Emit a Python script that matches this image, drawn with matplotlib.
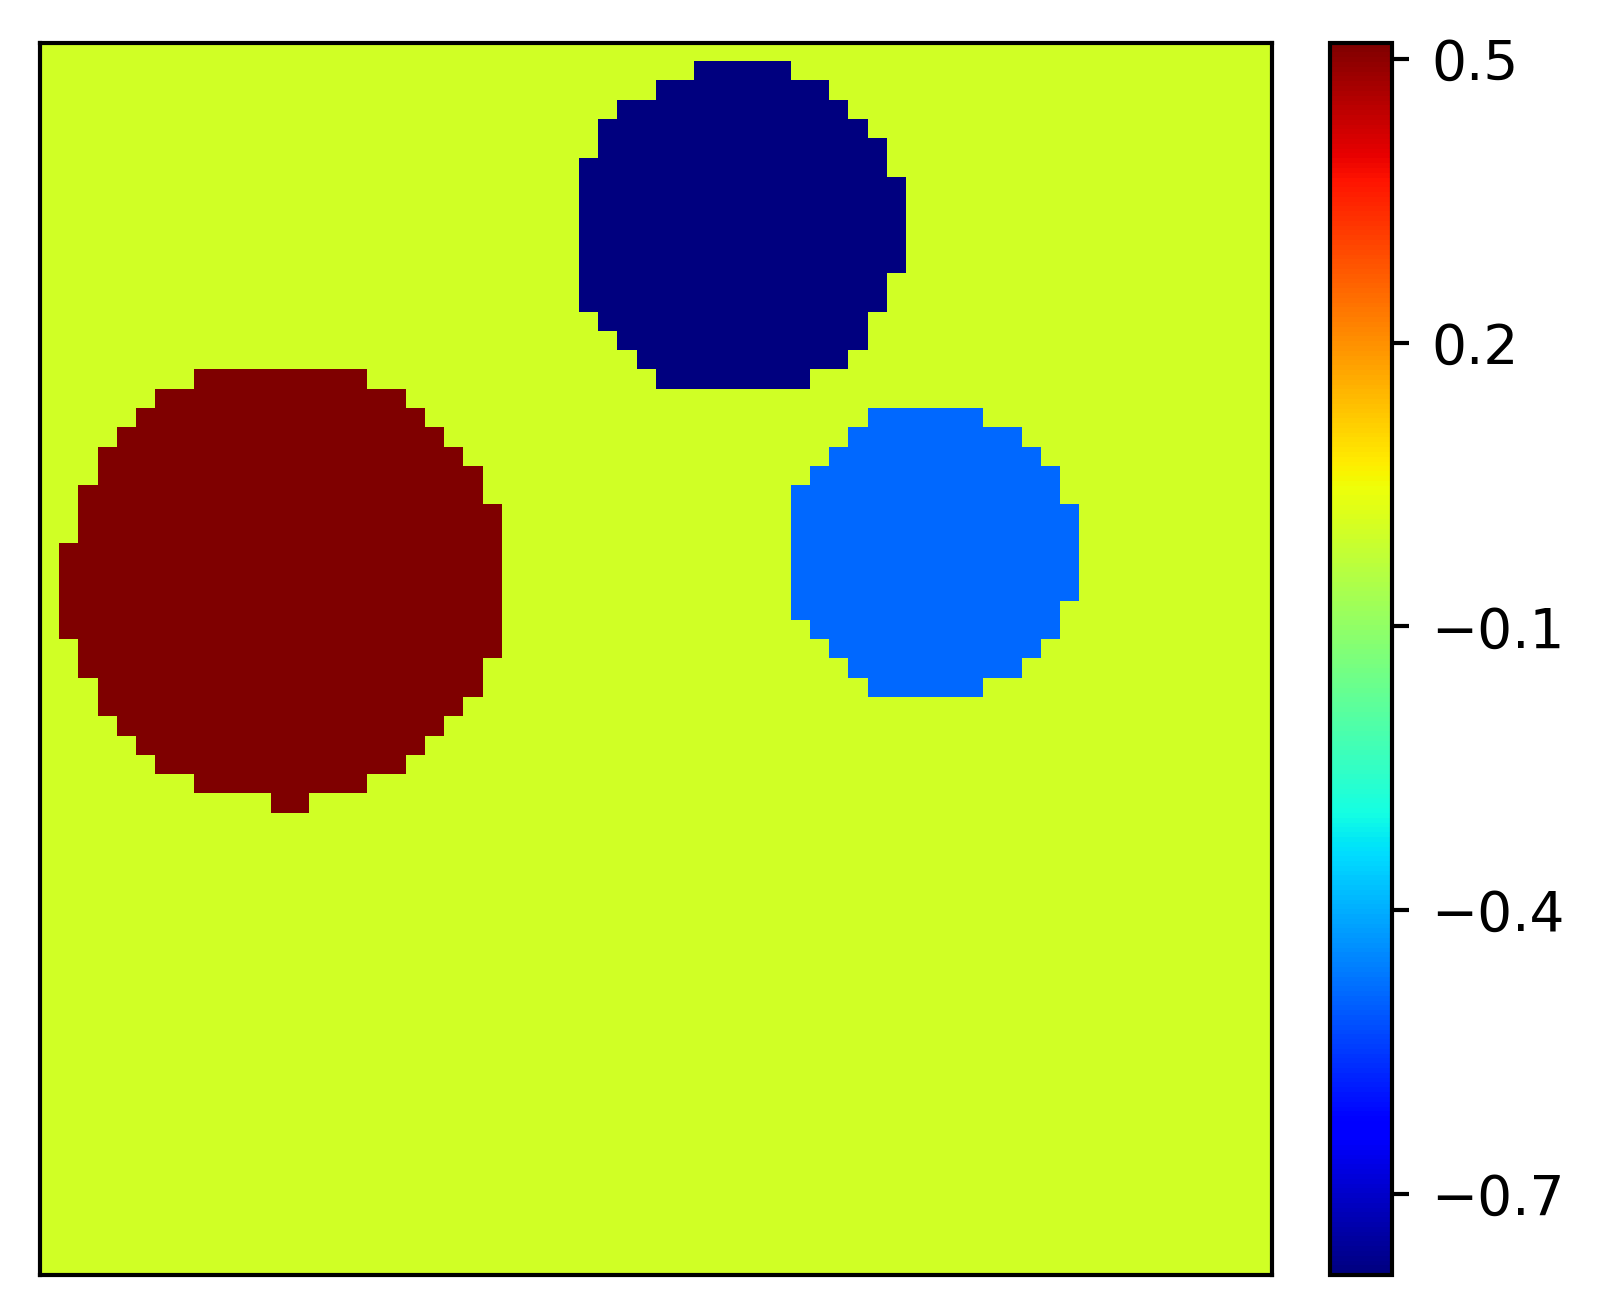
import numpy as np
import matplotlib
matplotlib.use("Agg")
import matplotlib.pyplot as plt

# grid size and values
n = 64
background = 0.0
disc_values = [0.517, -0.786, -0.49]   # red, navy, light blue

# each disc as (first_row, last_row, start_col, stop_col) runs, rows counted from top
red_runs = [(17, 17, 8, 17), (18, 18, 6, 19), (19, 19, 5, 20), (20, 20, 4, 21),
            (21, 21, 3, 22), (22, 22, 3, 23), (23, 23, 2, 23), (24, 25, 2, 24),
            (26, 30, 1, 24), (31, 31, 2, 24), (32, 32, 2, 23), (33, 33, 3, 23),
            (34, 34, 3, 22), (35, 35, 4, 21), (36, 36, 5, 20), (37, 37, 6, 19),
            (38, 38, 8, 17), (39, 39, 12, 14)]
navy_runs = [(1, 1, 34, 39), (2, 2, 32, 41), (3, 3, 30, 42), (4, 4, 29, 43),
             (5, 5, 29, 44), (6, 6, 28, 44), (7, 11, 28, 45), (12, 13, 28, 44),
             (14, 14, 29, 43), (15, 15, 30, 43), (16, 16, 31, 42), (17, 17, 32, 40)]
blue_runs = [(19, 19, 43, 49), (20, 20, 42, 51), (21, 21, 41, 52), (22, 22, 40, 53),
             (23, 23, 39, 53), (24, 28, 39, 54), (29, 29, 39, 53), (30, 30, 40, 53),
             (31, 31, 41, 52), (32, 32, 42, 51), (33, 33, 43, 49)]

cbar_ticks = [0.5, 0.2, -0.1, -0.4, -0.7]

grid = np.full((n, n), background)
for runs, val in zip([red_runs, navy_runs, blue_runs], disc_values):
    for r0, r1, c0, c1 in runs:
        grid[r0:r1 + 1, c0:c1] = val

fig = plt.figure(figsize=(5.35, 4.3842), dpi=300)
ax = fig.add_axes([40 / 1605, 40 / 1315, 1232 / 1605, 1232 / 1315])
im = ax.imshow(grid, cmap="jet", interpolation="nearest", aspect="auto")
ax.set_xticks([])
ax.set_yticks([])
for s in ax.spines.values():
    s.set_linewidth(1.0)

cax = fig.add_axes([1330 / 1605, 40 / 1315, 62 / 1605, 1232 / 1315])
cb = fig.colorbar(im, cax=cax, ticks=cbar_ticks)
cb.outline.set_linewidth(1.0)
cax.tick_params(labelsize=13.2, length=4, width=1.0, pad=5.5)

fig.savefig("out.png", dpi=300)
